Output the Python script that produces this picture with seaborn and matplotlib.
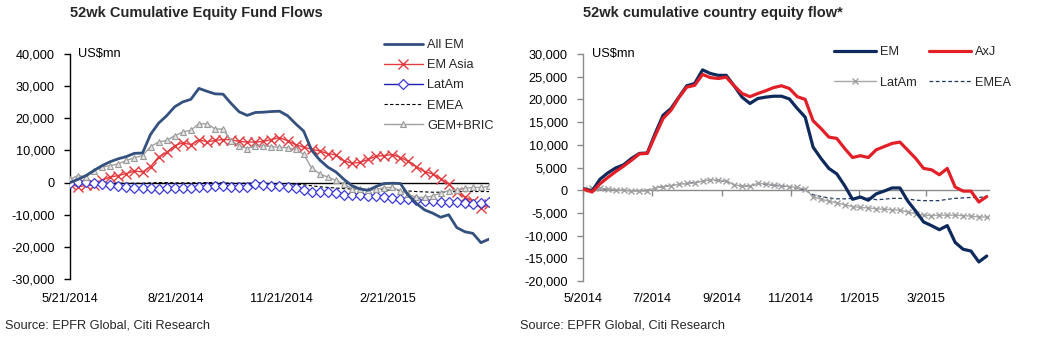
import matplotlib
matplotlib.use("Agg")
import matplotlib.pyplot as plt
import matplotlib.dates as mdates
import numpy as np
import pandas as pd
import seaborn as sns
from matplotlib import font_manager
from matplotlib.ticker import FuncFormatter, MultipleLocator

# ---------------- data (US$ mn, 52-week cumulative) ----------------
left_start = "2014-05-21"
all_em = [0, 1000, 2200, 3800, 5300, 6500, 7400, 8100, 9100, 9200,
          15000, 18500, 20800, 23600, 25100, 25900, 29300, 28400, 27600, 27500,
          24600, 22000, 20900, 21800, 21900, 22100, 22200, 20800, 18300, 16000,
          10000, 7000, 4800, 3300, 1000, -1000, -2000, -2400, -1200, -300,
          -200, -300, -4000, -6500, -8500, -9500, -10800, -10000, -14000, -15300,
          -15800, -18700, -17600]
em_asia = [-500, -1300, -900, -800, 800, 1700, 2200, 2800, 3600, 3300,
           5000, 8000, 9400, 11500, 12400, 11800, 13300, 12700, 13100, 13400,
           13300, 12800, 12600, 12600, 12800, 13400, 14000, 13000, 11800, 11000,
           10400, 9800, 9000, 8600, 6800, 6000, 6300, 7200, 8200, 8400,
           8700, 7800, 6600, 5000, 3400, 2700, 1200, -500, -3000, -4500,
           -5800, -8000, -6800]
latam_l = [-200, 200, 100, 0, -300, -800, -1200, -1500, -1700, -1800,
           -1800, -1900, -1800, -1800, -1800, -1600, -1300, -1300, -1000, -1100,
           -1400, -1500, -1500, -500, -800, -1000, -1200, -1300, -1700, -2200,
           -2800, -2800, -3000, -3300, -3800, -4000, -4000, -4100, -4300, -4600,
           -4700, -5000, -5200, -5500, -5600, -5800, -5900, -6000, -6100, -6200,
           -6800, -6300, -6100]
emea_l = [0, 100, 100, 0, -100, -100, -200, -200, -200, -200,
          -100, 0, 0, -100, -100, -100, 0, 0, 0, -100,
          -200, -200, -200, -100, -200, -300, -300, -400, -500, -700,
          -1000, -1300, -1500, -1700, -1900, -2000, -2100, -2200, -2200, -2300,
          -2400, -2500, -2600, -2800, -2900, -3000, -3000, -2900, -2800, -2800,
          -2800, -2800, -2800]
gem_bric = [1000, 2200, 1800, 3700, 4800, 5300, 5800, 6900, 7700, 8400,
            11200, 12600, 13100, 14600, 15700, 16300, 18300, 18300, 16700, 16600,
            13000, 11500, 10600, 11500, 11500, 11200, 11000, 10800, 10300, 8800,
            4500, 2700, 1700, 700, -400, -2000, -2000, -2400, -2100, -1600,
            -1500, -2500, -3700, -4600, -4600, -4200, -3200, -2500, -2200, -1800,
            -1500, -1500, -1200]

right_start = "2014-05-02"
em = [300, -200, 2400, 3800, 4900, 5600, 7000, 8100, 8200, 12500,
      16500, 18000, 20500, 23000, 23500, 26500, 25700, 25300, 25300, 23000,
      20500, 19100, 20200, 20500, 20700, 20700, 20100, 18000, 16100, 9500,
      7000, 4800, 3600, 1000, -2000, -1500, -2200, -800, -200, 500,
      500, -2400, -4600, -7000, -7800, -8700, -7800, -11500, -13000, -13400,
      -15800, -14500]
axj = [200, -400, 1400, 2800, 4100, 5300, 6600, 8000, 8100, 12000,
       15800, 17600, 20400, 22700, 23100, 25500, 24800, 24600, 24900, 23000,
       21300, 20600, 21300, 21900, 22600, 23000, 22400, 20600, 20000, 15300,
       13600, 11700, 11400, 9200, 7200, 7600, 7200, 8900, 9600, 10300,
       10600, 8800, 7000, 4800, 4500, 3400, 4800, 700, -200, -200,
       -2600, -1400]
latam_r = [300, 400, 400, 300, 100, 0, -200, -200, -200, 500,
           800, 1000, 1300, 1500, 1600, 2000, 2300, 2200, 2100, 1200,
           900, 900, 1500, 1400, 1200, 1000, 800, 600, 200, -1400,
           -2000, -2400, -2800, -3200, -3600, -3800, -3900, -4100, -4200, -4300,
           -4400, -4800, -5200, -5500, -5600, -5500, -5500, -5500, -5600, -5700,
           -5900, -5900]
emea_r = [200, 300, 300, 200, 100, 0, -100, -100, 0, 500,
          800, 1000, 1300, 1500, 1700, 2000, 2200, 2100, 2000, 1200,
          900, 900, 1400, 1300, 1100, 900, 700, 400, 0, -1000,
          -1400, -1700, -1900, -1900, -1800, -1700, -1700, -2100, -2000, -1800,
          -1800, -1900, -2200, -2300, -2300, -2300, -2000, -1800, -1700, -1600,
          -1600, -1400]

left_dates = pd.date_range(left_start, periods=len(all_em), freq="7D")
right_dates = pd.date_range(right_start, periods=len(em), freq="7D")

# ---------------- style ----------------
sns.set_style("white")
installed = {f.name for f in font_manager.fontManager.ttflist}
narrow = "Liberation Sans Narrow" in installed
base_font = "Liberation Sans Narrow" if narrow else "Liberation Sans"
plt.rcParams["font.family"] = [base_font, "DejaVu Sans"]
FS = 11 if narrow else 9.2
TFS = 12.5 if narrow else 10.5

fig = plt.figure(figsize=(10.44, 3.42), dpi=100)
W, H = 1044.0, 342.0
axL = fig.add_axes([70 / W, 1 - 279 / H, 419 / W, 225 / H])
axR = fig.add_axes([583 / W, 1 - 281 / H, 406 / W, 227 / H])

thousands = FuncFormatter(lambda v, p: f"{v:,.0f}")

# ---------------- left panel ----------------
sns.lineplot(x=left_dates, y=all_em, ax=axL, color="#34507F", lw=2.0,
             label="All EM", zorder=4)
sns.lineplot(x=left_dates, y=em_asia, ax=axL, color="#E23A3E", lw=1.0,
             marker="x", markersize=6.5, markeredgewidth=1.0,
             markeredgecolor="#E23A3E", label="EM Asia", zorder=3)
sns.lineplot(x=left_dates, y=latam_l, ax=axL, color="#1E1EB4", lw=1.0,
             marker="D", markersize=4.8, markerfacecolor="white",
             markeredgecolor="#3A3AD6", markeredgewidth=0.9,
             label="LatAm", zorder=3)
sns.lineplot(x=left_dates, y=emea_l, ax=axL, color="black", lw=0.8,
             linestyle=(0, (3, 2)), label="EMEA", zorder=2)
sns.lineplot(x=left_dates, y=gem_bric, ax=axL, color="#A0A0A0", lw=1.0,
             marker="^", markersize=4.5, markerfacecolor="#E4E4E4",
             markeredgecolor="#9A9A9A", markeredgewidth=0.8,
             label="GEM+BRIC", zorder=3)
axL.axhline(0, color="black", lw=1.0, zorder=2.5)

axL.set_xlim(left_dates[0], left_dates[-1])
axL.set_ylim(-30000, 40000)
axL.yaxis.set_major_locator(MultipleLocator(10000))
axL.yaxis.set_major_formatter(thousands)
axL.xaxis.set_major_locator(mdates.MonthLocator(bymonth=[2, 5, 8, 11], bymonthday=21))
axL.xaxis.set_major_formatter(FuncFormatter(
    lambda v, p: (lambda d: f"{d.month}/{d.day}/{d.year}")(mdates.num2date(v))))
for s in ("top", "right", "bottom"):
    axL.spines[s].set_visible(False)
axL.spines["left"].set_color("black")
axL.spines["left"].set_linewidth(1.0)
axL.tick_params(axis="y", direction="out", length=4, width=1, color="black",
                pad=7, labelsize=FS, labelcolor="black", left=True)
axL.tick_params(axis="x", length=0, pad=10, labelsize=FS, labelcolor="black")
axL.set_xlabel("")
axL.set_ylabel("")
axL.grid(False)
axL.text(0.02, 1.0, "US$mn", transform=axL.transAxes, va="center", ha="left",
         fontsize=FS, color="black")

hL, lL = axL.get_legend_handles_labels()
if axL.get_legend() is not None:
    axL.get_legend().remove()
fig.legend(hL, lL, loc="upper left", bbox_to_anchor=(384 / W, 1 - 39 / H),
           frameon=False, fontsize=FS, handlelength=3.05, handletextpad=0.35,
           labelspacing=0.64, borderpad=0, borderaxespad=0)

# ---------------- right panel ----------------
sns.lineplot(x=right_dates, y=em, ax=axR, color="#0E2A5C", lw=2.3,
             label="EM", zorder=4)
sns.lineplot(x=right_dates, y=latam_r, ax=axR, color="#A8A8A8", lw=1.0,
             marker="x", markersize=4, markeredgewidth=1.0,
             markeredgecolor="#A0A0A0", label="LatAm", zorder=3)
sns.lineplot(x=right_dates, y=axj, ax=axR, color="#E21F26", lw=2.3,
             label="AxJ", zorder=4)
sns.lineplot(x=right_dates, y=emea_r, ax=axR, color="#1F3864", lw=0.9,
             linestyle=(0, (3, 2)), label="EMEA", zorder=2)

axR.set_xlim(pd.Timestamp("2014-05-01"), right_dates[-1] + pd.Timedelta(days=2))
axR.set_ylim(-20000, 30000)
axR.yaxis.set_major_locator(MultipleLocator(5000))
axR.yaxis.set_major_formatter(thousands)
month_fmt = FuncFormatter(
    lambda v, p: (lambda d: f"{d.month}/{d.year}")(mdates.num2date(v)))
axR.xaxis.set_major_locator(mdates.MonthLocator(bymonth=[1, 3, 5, 7, 9, 11]))
for s in ("top", "right"):
    axR.spines[s].set_visible(False)
axR.spines["bottom"].set_position(("data", 0))
axR.spines["bottom"].set_color("#8A8A8A")
axR.spines["bottom"].set_linewidth(1.0)
axR.spines["left"].set_color("#8A8A8A")
axR.spines["left"].set_linewidth(1.0)
axR.tick_params(axis="y", direction="out", length=4, width=1, color="#8A8A8A",
                pad=7, labelsize=FS, labelcolor="black", left=True)
axR.tick_params(axis="x", direction="out", length=4, width=1, color="#8A8A8A",
                labelbottom=False, bottom=True)
axR.set_xlabel("")
axR.set_ylabel("")
axR.grid(False)

sec = axR.secondary_xaxis("bottom")
sec.spines["bottom"].set_visible(False)
sec.xaxis.set_major_locator(mdates.MonthLocator(bymonth=[1, 3, 5, 7, 9, 11]))
sec.xaxis.set_major_formatter(month_fmt)
sec.tick_params(axis="x", length=0, pad=9, labelsize=FS, labelcolor="black")

axR.text(0.022, 1.0, "US$mn", transform=axR.transAxes, va="center", ha="left",
         fontsize=FS, color="black")

hR, lR = axR.get_legend_handles_labels()
if axR.get_legend() is not None:
    axR.get_legend().remove()
fig.legend(hR, lR, loc="upper left", bbox_to_anchor=(834 / W, 1 - 46 / H),
           ncol=2, frameon=False, fontsize=FS, handlelength=3.3,
           handletextpad=0.3, labelspacing=1.45, columnspacing=0.95,
           borderpad=0, borderaxespad=0)

# ---------------- titles and notes ----------------
fig.text(70 / W, 1 - 13 / H, "52wk Cumulative Equity Fund Flows",
         fontsize=TFS, fontweight="bold", va="center", ha="left")
fig.text(583 / W, 1 - 13 / H, "52wk cumulative country equity flow*",
         fontsize=TFS, fontweight="bold", va="center", ha="left")
fig.text(5 / W, 1 - 326 / H, "Source: EPFR Global, Citi Research",
         fontsize=FS, va="center", ha="left")
fig.text(520 / W, 1 - 326 / H, "Source: EPFR Global, Citi Research",
         fontsize=FS, va="center", ha="left")

fig.savefig("out.png", dpi=100)
